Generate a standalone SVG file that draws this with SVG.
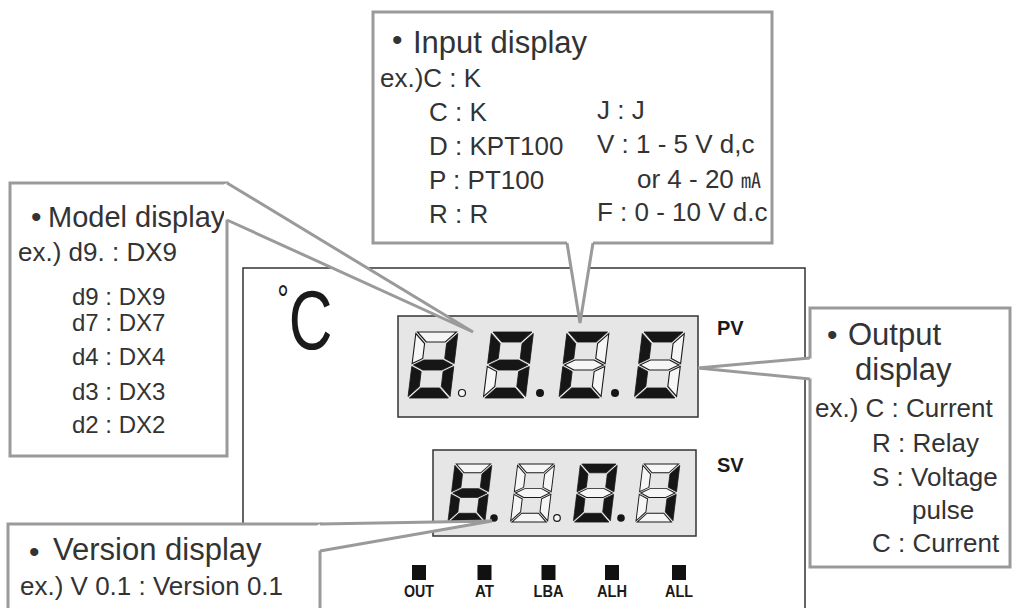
<svg xmlns="http://www.w3.org/2000/svg" width="1013" height="608" viewBox="0 0 1013 608">
<defs>
<style>
.t{font-family:"Liberation Sans","Noto Sans CJK JP",Arial,sans-serif;fill:#333}
.ti{font-size:31px}
.tm{font-size:29px}
.bd{font-size:26px}
.sm{font-size:24px}
.bul{font-size:30px}
.co{fill:#fff;stroke:#9a9a9a;stroke-width:3}
.wf{fill:#fff;stroke:none}
.wl{fill:none;stroke:#9a9a9a;stroke-width:3;stroke-linejoin:miter}
.dev{fill:#fff;stroke:#333;stroke-width:1.5}
.disp{fill:#e6e6e6;stroke:#333;stroke-width:1.5}
.on{fill:#161616;stroke:#161616;stroke-width:0.8}
.off{fill:#f6f6f6;stroke:#1a1a1a;stroke-width:1.1}
.dpon{fill:#161616}
.dpoff{fill:#f6f6f6;stroke:#1a1a1a;stroke-width:1.2}
.lbl{font-family:"Liberation Sans",Arial,sans-serif;font-weight:bold;fill:#1a1a1a}
.led{fill:#111}
</style>
<polygon id="sa" points="1.5,0 40.5,0 30.5,10 11.5,10"/>
<polygon id="sb" points="42,1.5 42,31.5 32,26.5 32,11.5"/>
<polygon id="sc" points="42,34.5 42,64.5 32,54.5 32,39.5"/>
<polygon id="sd" points="11.5,56 30.5,56 40.5,66 1.5,66"/>
<polygon id="se" points="0,34.5 10,39.5 10,54.5 0,64.5"/>
<polygon id="sf" points="0,1.5 10,11.5 10,26.5 0,31.5"/>
<polygon id="sg" points="1.5,33 11.5,28 30.5,28 40.5,33 30.5,38 11.5,38"/>
</defs>

<g id="device">
<rect class="dev" x="243" y="268" width="562" height="360"/>
<text class="t" transform="translate(286,349) scale(0.72,1)" x="-12" y="0" style="fill:#1a1a1a"><tspan font-size="40" dy="-36">°</tspan><tspan font-size="84" dy="36">C</tspan></text>
</g>

<g id="pv-display">
<rect class="disp" x="398" y="316" width="300" height="101"/>
<g transform="translate(416,332) skewX(-7)">
<use href="#sa" class="off"/><use href="#sb" class="on"/><use href="#sc" class="on"/><use href="#sd" class="on"/><use href="#se" class="on"/><use href="#sf" class="off"/><use href="#sg" class="on"/>
</g>
<g transform="translate(491.5,332) skewX(-7)">
<use href="#sa" class="on"/><use href="#sb" class="on"/><use href="#sc" class="on"/><use href="#sd" class="on"/><use href="#se" class="off"/><use href="#sf" class="on"/><use href="#sg" class="on"/>
</g>
<g transform="translate(567,332) skewX(-7)">
<use href="#sa" class="on"/><use href="#sb" class="off"/><use href="#sc" class="off"/><use href="#sd" class="on"/><use href="#se" class="on"/><use href="#sf" class="on"/><use href="#sg" class="off"/>
</g>
<g transform="translate(642.5,332) skewX(-7)">
<use href="#sa" class="on"/><use href="#sb" class="off"/><use href="#sc" class="off"/><use href="#sd" class="on"/><use href="#se" class="on"/><use href="#sf" class="on"/><use href="#sg" class="off"/>
</g>
<circle class="dpoff" cx="462" cy="393" r="3.5"/>
<circle class="dpon" cx="540" cy="393" r="4"/>
<circle class="dpon" cx="615" cy="393" r="4"/>
<text class="lbl" x="717" y="335" font-size="20">PV</text>
</g>

<g id="sv-display">
<rect class="disp" x="433" y="450" width="263" height="86"/>
<g transform="translate(455,464) scale(0.88) skewX(-7)">
<use href="#sa" class="off"/><use href="#sb" class="on"/><use href="#sc" class="on"/><use href="#sd" class="on"/><use href="#se" class="on"/><use href="#sf" class="on"/><use href="#sg" class="on"/>
</g>
<g transform="translate(517.7,464) scale(0.88) skewX(-7)">
<use href="#sa" class="off"/><use href="#sb" class="off"/><use href="#sc" class="off"/><use href="#sd" class="off"/><use href="#se" class="off"/><use href="#sf" class="off"/><use href="#sg" class="off"/>
</g>
<g transform="translate(580.4,464) scale(0.88) skewX(-7)">
<use href="#sa" class="on"/><use href="#sb" class="on"/><use href="#sc" class="on"/><use href="#sd" class="on"/><use href="#se" class="on"/><use href="#sf" class="on"/><use href="#sg" class="off"/>
</g>
<g transform="translate(643,464) scale(0.88) skewX(-7)">
<use href="#sa" class="off"/><use href="#sb" class="on"/><use href="#sc" class="on"/><use href="#sd" class="off"/><use href="#se" class="off"/><use href="#sf" class="off"/><use href="#sg" class="off"/>
</g>
<circle class="dpon" cx="494" cy="518" r="3.8"/>
<circle class="dpoff" cx="557" cy="518" r="3.3"/>
<circle class="dpon" cx="621" cy="518" r="3.8"/>
<text class="lbl" x="717" y="472" font-size="20">SV</text>
</g>

<g id="indicators">
<rect class="led" x="412" y="565" width="14" height="15"/>
<rect class="led" x="477.5" y="565" width="14" height="15"/>
<rect class="led" x="541.5" y="565" width="14" height="15"/>
<rect class="led" x="605" y="565" width="14" height="15"/>
<rect class="led" x="672" y="565" width="14" height="15"/>
<text class="lbl" font-size="17" x="419" y="597" text-anchor="middle" textLength="30" lengthAdjust="spacingAndGlyphs">OUT</text>
<text class="lbl" font-size="17" x="484.5" y="597" text-anchor="middle" textLength="19" lengthAdjust="spacingAndGlyphs">AT</text>
<text class="lbl" font-size="17" x="548.5" y="597" text-anchor="middle" textLength="30" lengthAdjust="spacingAndGlyphs">LBA</text>
<text class="lbl" font-size="17" x="612" y="597" text-anchor="middle" textLength="30" lengthAdjust="spacingAndGlyphs">ALH</text>
<text class="lbl" font-size="17" x="679" y="597" text-anchor="middle" textLength="28" lengthAdjust="spacingAndGlyphs">ALL</text>
</g>

<g id="input-callout">
<rect class="co" x="373" y="12" width="399" height="231"/>
<text class="t"><tspan class="bul" x="392" y="50">•</tspan><tspan class="ti" x="413" y="53">Input display</tspan></text>
<text class="t bd" x="380" y="87">ex.)C : K</text>
<text class="t bd" x="429" y="121">C : K</text>
<text class="t bd" x="429" y="155">D : KPT100</text>
<text class="t bd" x="429" y="189">P : PT100</text>
<text class="t bd" x="429" y="223">R : R</text>
<text class="t bd" x="597" y="119">J : J</text>
<text class="t bd" x="597" y="153">V : 1 - 5 V d,c</text>
<text class="t bd" x="637" y="188">or 4 - 20 <tspan font-size="20">㎃</tspan></text>
<text class="t bd" x="597" y="221">F : 0 - 10 V d.c</text>
</g>

<g id="model-callout">
<rect class="co" x="10" y="183" width="217" height="273"/>
<text class="t"><tspan class="bul" x="31" y="227">•</tspan><tspan class="tm" x="48" y="227">Model display</tspan></text>
<text class="t bd" x="18" y="261">ex.) d9. : DX9</text>
<text class="t sm" x="72" y="305">d9 : DX9</text>
<text class="t sm" x="72" y="331">d7 : DX7</text>
<text class="t sm" x="72" y="365">d4 : DX4</text>
<text class="t sm" x="72" y="400">d3 : DX3</text>
<text class="t sm" x="72" y="433">d2 : DX2</text>
</g>

<g id="output-callout">
<rect class="co" x="810" y="308" width="200" height="259"/>
<text class="t"><tspan class="bul" x="827" y="345">•</tspan><tspan class="ti" x="848" y="345">Output</tspan></text>
<text class="t ti" x="855" y="380">display</text>
<text class="t bd" x="815" y="417">ex.) C : Current</text>
<text class="t bd" x="872" y="452">R : Relay</text>
<text class="t bd" x="872" y="486">S : Voltage</text>
<text class="t bd" x="912" y="519">pulse</text>
<text class="t bd" x="872" y="552">C : Current</text>
</g>

<g id="version-callout">
<rect class="co" x="8" y="524" width="312" height="110"/>
<text class="t"><tspan class="bul" x="29" y="562">•</tspan><tspan class="ti" x="53" y="560">Version display</tspan></text>
<text class="t bd" x="20" y="595">ex.) V 0.1 : Version 0.1</text>
</g>

<g id="connectors">
<path class="wf" d="M567,240 L593,240 L593,243 L580,323 L567,243 Z"/>
<path class="wl" d="M567,243 L580,323 L593,243"/>
<path class="wf" d="M224,184.5 L227,183 L473,332 L227,220 L224,218.5 Z"/>
<path class="wl" d="M227,183 L473,332 L227,220"/>
<path class="wf" d="M813,359.5 L810,358 L698,368 L810,379 L813,377.5 Z"/>
<path class="wl" d="M810,358 L698,368 L810,379"/>
<path class="wf" d="M317,525.5 L320,524 L492,521 L320,551 L317,549.5 Z"/>
<path class="wl" d="M320,524 L492,521 L320,551"/>
</g>
</svg>
